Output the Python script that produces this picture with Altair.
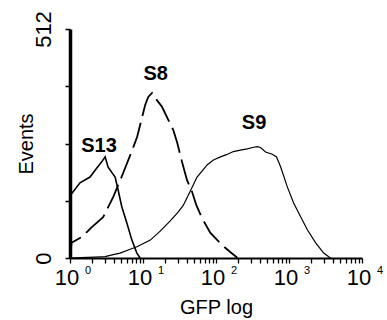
import altair as alt
import pandas as pd

# ---- data ----
s13_x = [1.0, 1.02, 1.37, 1.88, 2.33, 2.72, 3.03, 3.33, 4.15, 4.56, 5.13, 6.01, 7.04, 8.24, 9.15]
s13_y = [0, 141, 168, 181, 201, 215, 226, 203, 181, 152, 114, 78, 40, 11, 0]

s8_x = [1.0, 1.05, 1.45, 1.99, 2.84, 3.90, 5.35, 7.11, 8.32, 9.66, 10.7, 11.8, 13.3, 15.5,
        18.2, 22.2, 26.0, 29.5, 34.2, 40.1, 47.0, 53.8, 64.4, 83.8, 121, 158, 185, 197]
s8_y = [0, 34, 47, 69, 91, 136, 190, 241, 271, 313, 342, 360, 369, 353,
        338, 309, 286, 257, 215, 174, 148, 118, 89, 56, 29, 13, 4, 0]

s9_x = [1.0, 1.37, 2.21, 3.03, 3.78, 4.86, 6.26, 8.25, 12.6, 17.2, 23.6, 30.5, 35.7, 44.5,
        55.0, 64.4, 75.5, 92.1, 115, 139, 173, 216, 268, 316, 367, 407, 477, 590, 675,
        767, 948, 1157, 1443, 1784, 2320, 2988, 3499, 3727]
s9_y = [0, 1, 2, 3, 7, 11, 18, 25, 40, 60, 83, 103, 118, 150,
        181, 194, 208, 219, 226, 231, 238, 241, 244, 247, 249, 247, 237, 232, 226,
        204, 159, 123, 92, 63, 34, 11, 3, 0]

label_text = ["S13", "S8", "S9"]
label_x = [2.5, 14.9, 332]
label_y = [250, 412, 301]

x_ticks = [1, 10, 100, 1000, 10000]
x_exponents = ["0", "1", "2", "3", "4"]
x_minor = [m * d for d in [1, 10, 100, 1000] for m in range(2, 10)]
y_ticks = [0, 128, 256, 384, 512]

# ---- tables ----
def frame(name, xs, ys):
    return pd.DataFrame({"series": name, "gfp": xs, "events": ys, "order": range(len(xs))})

df = pd.concat([frame("S13", s13_x, s13_y), frame("S8", s8_x, s8_y), frame("S9", s9_x, s9_y)])
labels = pd.DataFrame({"text": label_text, "gfp": label_x, "events": label_y})
ticklab = pd.DataFrame({"gfp": x_ticks, "events": [0] * len(x_ticks), "base": ["10"] * len(x_ticks), "exp": x_exponents})

FONT = "Liberation Sans"

x_scale = alt.Scale(type="log", domain=[1, 10000], nice=False)
y_scale = alt.Scale(domain=[0, 512], nice=False)

x_axis = alt.Axis(
    title="GFP log",
    values=x_ticks + x_minor,
    labels=False,
    tickSize=5, tickColor="black", tickWidth=1.3,
    domainColor="black", domainWidth=2,
    titleFont=FONT, titleFontSize=20, titleFontWeight="normal", titleColor="black",
    titlePadding=34, grid=False,
)
y_axis = alt.Axis(
    title="Events",
    values=y_ticks,
    labelExpr="datum.value==0||datum.value==512?datum.label:''",
    labelAngle=270,
    tickSize=5, tickColor="black", tickWidth=1.5,
    domainColor="black", domainWidth=3.5,
    labelFont=FONT, labelFontSize=22, labelColor="black", labelPadding=10,
    labelOverlap=False, labelFlush=False,
    titleFont=FONT, titleFontSize=20, titleFontWeight="normal", titleColor="black",
    titlePadding=-4, grid=False,
)

base = alt.Chart(df).encode(
    x=alt.X("gfp:Q", scale=x_scale, axis=x_axis),
    y=alt.Y("events:Q", scale=y_scale, axis=y_axis),
    order="order:Q",
)

s13 = base.transform_filter(alt.datum.series == "S13").mark_line(color="black", strokeWidth=1.6)
s8 = base.transform_filter(alt.datum.series == "S8").mark_line(color="black", strokeWidth=1.8, strokeDash=[26, 7])
s9 = base.transform_filter(alt.datum.series == "S9").mark_line(color="black", strokeWidth=1.2)

text = alt.Chart(labels).mark_text(font=FONT, fontSize=20, fontWeight="bold", color="black").encode(
    x=alt.X("gfp:Q", scale=x_scale),
    y=alt.Y("events:Q", scale=y_scale),
    text="text:N",
)

tick_base = alt.Chart(ticklab).mark_text(
    font=FONT, fontSize=22, color="black", baseline="top", align="center", dx=-3, dy=10
).encode(
    x=alt.X("gfp:Q", scale=x_scale),
    y=alt.Y("events:Q", scale=y_scale),
    text="base:N",
)
tick_exp = alt.Chart(ticklab).mark_text(
    font=FONT, fontSize=11, color="black", baseline="top", align="left", dx=15, dy=7
).encode(
    x=alt.X("gfp:Q", scale=x_scale),
    y=alt.Y("events:Q", scale=y_scale),
    text="exp:N",
)

chart = (
    alt.layer(s13, s8, s9, text, tick_base, tick_exp)
    .properties(
        width=292, height=229,
        autosize=alt.AutoSizeParams(type="none"),
        padding={"left": 70, "top": 29, "right": 25, "bottom": 62},
        background="white",
    )
    .configure_view(stroke=None)
)

chart.save("out.html", embed_options={"renderer": "svg", "actions": False})
